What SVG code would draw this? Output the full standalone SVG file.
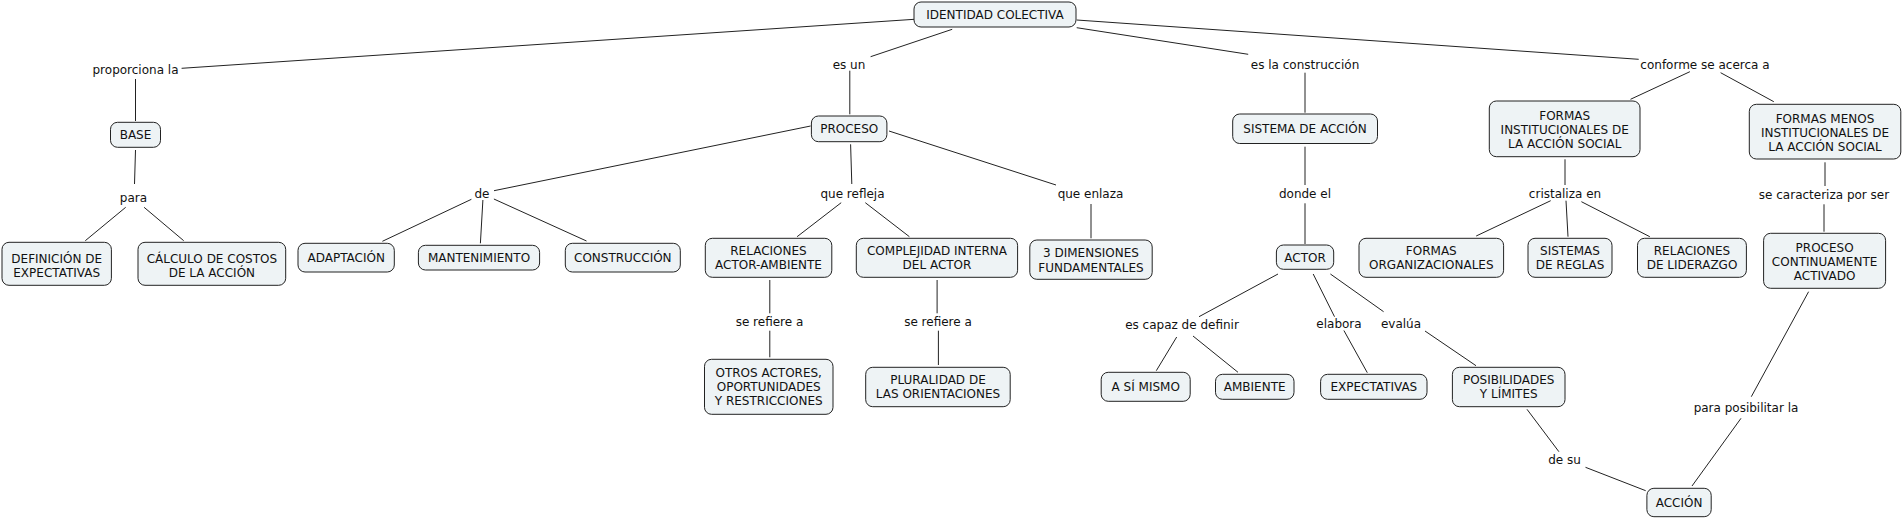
<svg xmlns="http://www.w3.org/2000/svg" width="1902" height="519" viewBox="0 0 1902 519">
<style>
.n rect{fill:#eef3f5;stroke:#222;stroke-width:1;}
text{font-family:"DejaVu Sans","Liberation Sans",sans-serif;font-size:12px;fill:#111;text-anchor:middle;}
#connectors line{stroke:#222;stroke-width:1;fill:none;}
</style>
<rect x="0" y="0" width="1902" height="519" fill="#ffffff"/>
<g id="connectors">
<line x1="914.3" y1="19.3" x2="181.6" y2="68.3"/>
<line x1="135.5" y1="79" x2="135.5" y2="121"/>
<line x1="135.5" y1="150" x2="134.5" y2="184"/>
<line x1="125.7" y1="207.3" x2="85.3" y2="240.7"/>
<line x1="144.1" y1="207.3" x2="183.7" y2="240.7"/>
<line x1="952.2" y1="29.3" x2="870.6" y2="56.7"/>
<line x1="849.8" y1="70.7" x2="849.8" y2="114.3"/>
<line x1="810.6" y1="126" x2="494" y2="190.7"/>
<line x1="471.4" y1="199.3" x2="382.4" y2="241.3"/>
<line x1="482.9" y1="200" x2="480.4" y2="243.3"/>
<line x1="493.9" y1="199" x2="586.5" y2="241"/>
<line x1="850.6" y1="144.3" x2="851.8" y2="184"/>
<line x1="889" y1="131" x2="1056" y2="185"/>
<line x1="841.2" y1="202.7" x2="797.1" y2="236.7"/>
<line x1="865.3" y1="202.7" x2="909.4" y2="236.7"/>
<line x1="1091" y1="204" x2="1091" y2="238.3"/>
<line x1="769.8" y1="280" x2="769.8" y2="313.3"/>
<line x1="769.8" y1="330.7" x2="769.8" y2="357.3"/>
<line x1="937.1" y1="280" x2="937.1" y2="313.3"/>
<line x1="938.4" y1="330.7" x2="938.4" y2="365"/>
<line x1="1076.7" y1="27.7" x2="1248.2" y2="54.3"/>
<line x1="1305" y1="72.7" x2="1305" y2="112.7"/>
<line x1="1305" y1="146.7" x2="1305" y2="185"/>
<line x1="1305" y1="203.3" x2="1305" y2="244"/>
<line x1="1278" y1="274" x2="1199" y2="316.7"/>
<line x1="1176.7" y1="337" x2="1156.3" y2="370.7"/>
<line x1="1193" y1="336" x2="1238" y2="372.3"/>
<line x1="1313.2" y1="274" x2="1334.5" y2="316.7"/>
<line x1="1343.9" y1="330.5" x2="1367.3" y2="372.7"/>
<line x1="1330.4" y1="274" x2="1383.6" y2="311.7"/>
<line x1="1425" y1="331" x2="1476" y2="365.7"/>
<line x1="1527" y1="409.3" x2="1558.9" y2="451.7"/>
<line x1="1585.5" y1="467.3" x2="1645.7" y2="490.7"/>
<line x1="1076.7" y1="20" x2="1638.7" y2="59.3"/>
<line x1="1689.9" y1="71.7" x2="1630.5" y2="99.3"/>
<line x1="1720.6" y1="72.7" x2="1773.8" y2="101.7"/>
<line x1="1565" y1="159.3" x2="1565" y2="185"/>
<line x1="1550.7" y1="200.7" x2="1476.2" y2="236"/>
<line x1="1566" y1="200.7" x2="1568" y2="236.7"/>
<line x1="1581.4" y1="201.7" x2="1649.8" y2="236.7"/>
<line x1="1825" y1="162.3" x2="1825" y2="186"/>
<line x1="1824" y1="204.3" x2="1824" y2="231.7"/>
<line x1="1808.6" y1="291.7" x2="1751.3" y2="396.7"/>
<line x1="1741" y1="418.3" x2="1692" y2="486"/>
</g>
<g id="labels">
<text x="135.5" y="73.5">proporciona la</text>
<text x="849" y="69">es un</text>
<text x="1305" y="69">es la construcción</text>
<text x="1705" y="69">conforme se acerca a</text>
<text x="133.5" y="201.5">para</text>
<text x="482" y="197.5">de</text>
<text x="852.5" y="197.5">que refleja</text>
<text x="1090.5" y="198">que enlaza</text>
<text x="1305" y="198">donde el</text>
<text x="1565" y="198">cristaliza en</text>
<text x="1824" y="199">se caracteriza por ser</text>
<text x="769.5" y="326">se refiere a</text>
<text x="938" y="326">se refiere a</text>
<text x="1182" y="329">es capaz de definir</text>
<text x="1339" y="327.5">elabora</text>
<text x="1401" y="327.5">evalúa</text>
<text x="1746" y="411.5">para posibilitar la</text>
<text x="1564.5" y="463.5">de su</text>
</g>
<g id="n-identidad" class="n"><rect x="914" y="2" width="162" height="25" rx="7"/><text x="995" y="18.5">IDENTIDAD COLECTIVA</text></g>
<g id="n-base" class="n"><rect x="110.5" y="122.3" width="50" height="25" rx="7"/><text x="135.5" y="139">BASE</text></g>
<g id="n-definicion" class="n"><rect x="2" y="242.3" width="109.4" height="43" rx="7"/><text x="56.7" y="263">DEFINICIÓN DE</text><text x="56.7" y="277">EXPECTATIVAS</text></g>
<g id="n-calculo" class="n"><rect x="138" y="242.3" width="147.7" height="43" rx="7"/><text x="211.9" y="263">CÁLCULO DE COSTOS</text><text x="211.9" y="277">DE LA ACCIÓN</text></g>
<g id="n-proceso" class="n"><rect x="811.4" y="116" width="75.5" height="25.7" rx="7"/><text x="849.2" y="133">PROCESO</text></g>
<g id="n-adaptacion" class="n"><rect x="298" y="243.3" width="96.3" height="28.7" rx="7"/><text x="346.2" y="261.7">ADAPTACIÓN</text></g>
<g id="n-mantenimiento" class="n"><rect x="418.4" y="245.3" width="121.2" height="24.7" rx="7"/><text x="479" y="261.7">MANTENIMIENTO</text></g>
<g id="n-construccion" class="n"><rect x="565.3" y="243.3" width="115" height="28.7" rx="7"/><text x="622.8" y="261.7">CONSTRUCCIÓN</text></g>
<g id="n-relaciones-aa" class="n"><rect x="705.3" y="238.3" width="126.5" height="39" rx="7"/><text x="768.5" y="255">RELACIONES</text><text x="768.5" y="269">ACTOR-AMBIENTE</text></g>
<g id="n-complejidad" class="n"><rect x="856.3" y="238.3" width="161.3" height="39" rx="7"/><text x="937" y="255">COMPLEJIDAD INTERNA</text><text x="937" y="269">DEL ACTOR</text></g>
<g id="n-3dim" class="n"><rect x="1029.8" y="240" width="122.4" height="39.3" rx="7"/><text x="1091" y="257">3 DIMENSIONES</text><text x="1091" y="271.5">FUNDAMENTALES</text></g>
<g id="n-otros" class="n"><rect x="704.5" y="359.3" width="128.5" height="55" rx="7"/><text x="768.7" y="377">OTROS ACTORES,</text><text x="768.7" y="391">OPORTUNIDADES</text><text x="768.7" y="405">Y RESTRICCIONES</text></g>
<g id="n-pluralidad" class="n"><rect x="865.7" y="367.3" width="144.5" height="39.4" rx="7"/><text x="938" y="384">PLURALIDAD DE</text><text x="938" y="398">LAS ORIENTACIONES</text></g>
<g id="n-sistema" class="n"><rect x="1232.7" y="114" width="144.8" height="29.5" rx="7"/><text x="1305" y="133">SISTEMA DE ACCIÓN</text></g>
<g id="n-actor" class="n"><rect x="1276.4" y="245" width="57.3" height="24.3" rx="7"/><text x="1305" y="261.5">ACTOR</text></g>
<g id="n-asimismo" class="n"><rect x="1101.2" y="372.3" width="89" height="29" rx="7"/><text x="1145.7" y="391">A SÍ MISMO</text></g>
<g id="n-ambiente" class="n"><rect x="1215.5" y="374.3" width="78.5" height="25" rx="7"/><text x="1254.7" y="391">AMBIENTE</text></g>
<g id="n-expectativas" class="n"><rect x="1320.6" y="374.3" width="106.4" height="25" rx="7"/><text x="1373.8" y="391">EXPECTATIVAS</text></g>
<g id="n-posibilidades" class="n"><rect x="1452.4" y="367.3" width="112.6" height="39.4" rx="7"/><text x="1508.7" y="384">POSIBILIDADES</text><text x="1508.7" y="398">Y LÍMITES</text></g>
<g id="n-accion" class="n"><rect x="1646.9" y="488.3" width="64.3" height="28.4" rx="7"/><text x="1679" y="506.5">ACCIÓN</text></g>
<g id="n-formas-inst" class="n"><rect x="1489.3" y="101" width="150.7" height="55.7" rx="7"/><text x="1564.7" y="120">FORMAS</text><text x="1564.7" y="134">INSTITUCIONALES DE</text><text x="1564.7" y="148">LA ACCIÓN SOCIAL</text></g>
<g id="n-formas-menos" class="n"><rect x="1749.3" y="104.3" width="151.5" height="54.7" rx="7"/><text x="1825" y="122.5">FORMAS MENOS</text><text x="1825" y="136.5">INSTITUCIONALES DE</text><text x="1825" y="150.5">LA ACCIÓN SOCIAL</text></g>
<g id="n-formas-org" class="n"><rect x="1359" y="238.3" width="144.6" height="39" rx="7"/><text x="1431.3" y="255">FORMAS</text><text x="1431.3" y="269">ORGANIZACIONALES</text></g>
<g id="n-sistemas-reglas" class="n"><rect x="1528" y="238.3" width="84" height="39" rx="7"/><text x="1570" y="255">SISTEMAS</text><text x="1570" y="269">DE REGLAS</text></g>
<g id="n-liderazgo" class="n"><rect x="1637.5" y="238.3" width="108.9" height="39" rx="7"/><text x="1692" y="255">RELACIONES</text><text x="1692" y="269">DE LIDERAZGO</text></g>
<g id="n-proceso-cont" class="n"><rect x="1763.6" y="233.3" width="122" height="55" rx="7"/><text x="1824.6" y="251.5">PROCESO</text><text x="1824.6" y="265.5">CONTINUAMENTE</text><text x="1824.6" y="280">ACTIVADO</text></g>
</svg>
